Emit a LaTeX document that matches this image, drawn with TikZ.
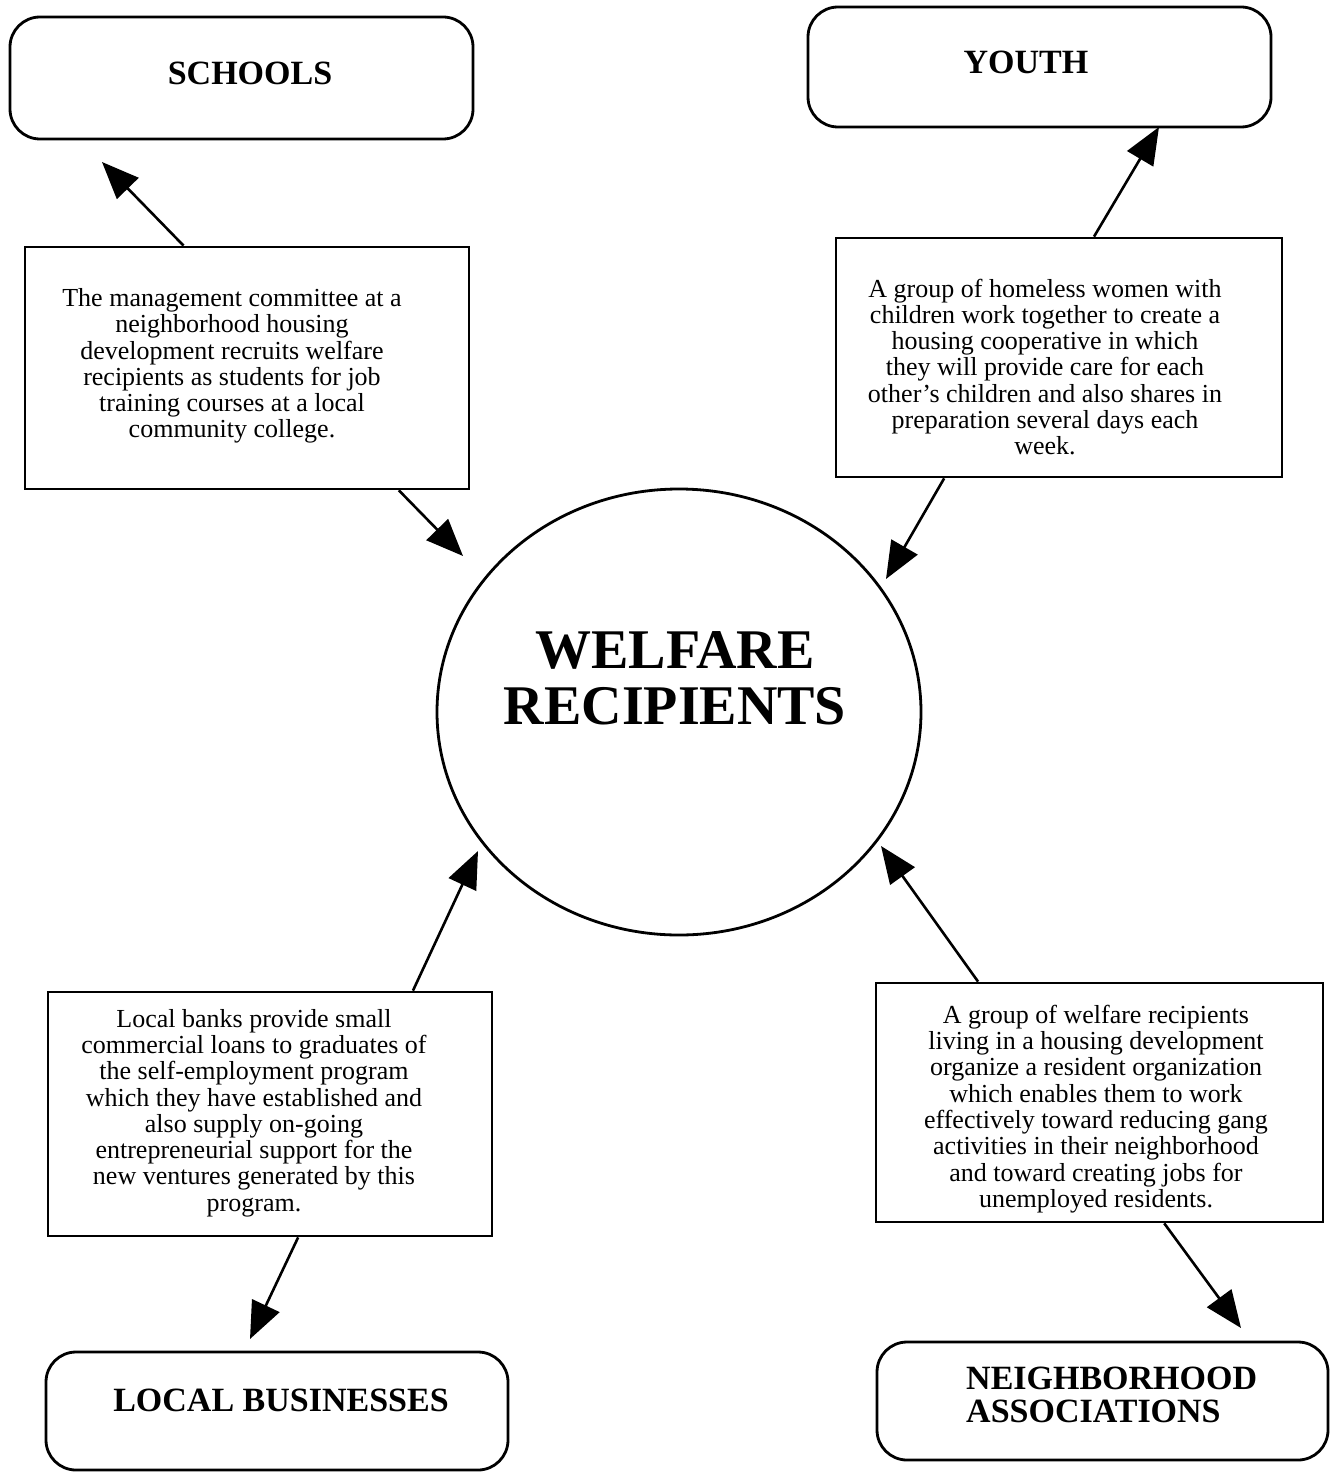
\documentclass[tikz,border=0pt]{standalone}
\usepackage{fontspec}
\setmainfont{Liberation Serif}
\usetikzlibrary{arrows.meta,calc,shapes.geometric}

\begin{document}
\begin{tikzpicture}[x=1pt,y=-1pt,
  roundbox/.style={draw, line width=2.8pt, rounded corners=30pt, inner sep=0pt},
  textbox/.style={draw, line width=2.7pt, inner sep=0pt},
  bodytext/.style={align=center, inner sep=0pt, font=\fontsize{26}{26.3}\selectfont},
  heading/.style={inner sep=0pt, font=\fontsize{34}{33}\selectfont\bfseries},
  hub/.style={draw, ellipse, line width=2.8pt, inner sep=0pt},
  link/.style={line width=2.6pt, -{Triangle[length=37pt,width=30pt]}}]

\useasboundingbox (0,0) rectangle (1331,1474);

% outer groups
\node[roundbox, minimum width=463pt, minimum height=122pt] (schools) at (241.5,78) {};
\node[heading] (schoolsT) at (250,73) {SCHOOLS};

\node[roundbox, minimum width=463pt, minimum height=120pt] (youth) at (1039.5,67) {};
\node[heading] (youthT) at (1026,62) {YOUTH};

\node[roundbox, minimum width=462pt, minimum height=118pt] (business) at (277,1411) {};
\node[heading] (businessT) at (281,1400) {LOCAL BUSINESSES};

\node[roundbox, minimum width=451pt, minimum height=118pt] (assoc) at (1102.5,1401) {};
\node[heading, align=left, anchor=west] (assocT) at (966,1395) {NEIGHBORHOOD\\ASSOCIATIONS};

% centre
\node[hub, minimum width=484pt, minimum height=446pt] (welfare) at (679,712) {};
\node[align=center, inner sep=0pt, font=\fontsize{56}{56}\selectfont\bfseries] (welfareT) at (675,678) {WELFARE\\RECIPIENTS};

% example boxes
\node[textbox, minimum width=444pt, minimum height=242pt] (b1) at (247,368) {};
\node[bodytext] (b1T) at (232,366) {The management committee at a\\neighborhood housing\\development recruits welfare\\recipients as students for job\\training courses at a local\\community college.};

\node[textbox, minimum width=446pt, minimum height=239pt] (b2) at (1059,357.5) {};
\node[bodytext] (b2T) at (1045,367) {A group of homeless women with\\children work together to create a\\housing cooperative in which\\they will provide care for each\\other's children and also shares in\\preparation several days each\\week.};

\node[textbox, minimum width=444pt, minimum height=244pt] (b3) at (270,1114) {};
\node[bodytext] (b3T) at (254,1113) {Local banks provide small\\commercial loans to graduates of\\the self-employment program\\which they have established and\\also supply on-going\\entrepreneurial support for the\\new ventures generated by this\\program.};

\node[textbox, minimum width=447pt, minimum height=239pt] (b4) at (1099.5,1102.5) {};
\node[bodytext] (b4T) at (1096,1109) {A group of welfare recipients\\living in a housing development\\organize a resident organization\\which enables them to work\\effectively toward reducing gang\\activities in their neighborhood\\and toward creating jobs for\\unemployed residents.};

% arrow tips
\coordinate (tipS) at (102,162);
\coordinate (tipY) at (1159,127);
\coordinate (tipB) at (250,1339);
\coordinate (tipA) at (1241,1328);
\coordinate (tip1) at (463,556);
\coordinate (tip2) at (886,579);
\coordinate (tip3) at (478,851);
\coordinate (tip4) at (881,846);

% connectors
\draw[link] ($(b1.north west)!0.358!(b1.north east)$) -- (tipS);
\draw[link] ($(b1.south west)!0.840!(b1.south east)$) -- (tip1);
\draw[link] ($(b2.north west)!0.578!(b2.north east)$) -- (tipY);
\draw[link] ($(b2.south west)!0.244!(b2.south east)$) -- (tip2);
\draw[link] ($(b3.north west)!0.820!(b3.north east)$) -- (tip3);
\draw[link] ($(b3.south west)!0.563!(b3.south east)$) -- (tipB);
\draw[link] ($(b4.north west)!0.230!(b4.north east)$) -- (tip4);
\draw[link] ($(b4.south west)!0.644!(b4.south east)$) -- (tipA);
\end{tikzpicture}
\end{document}
